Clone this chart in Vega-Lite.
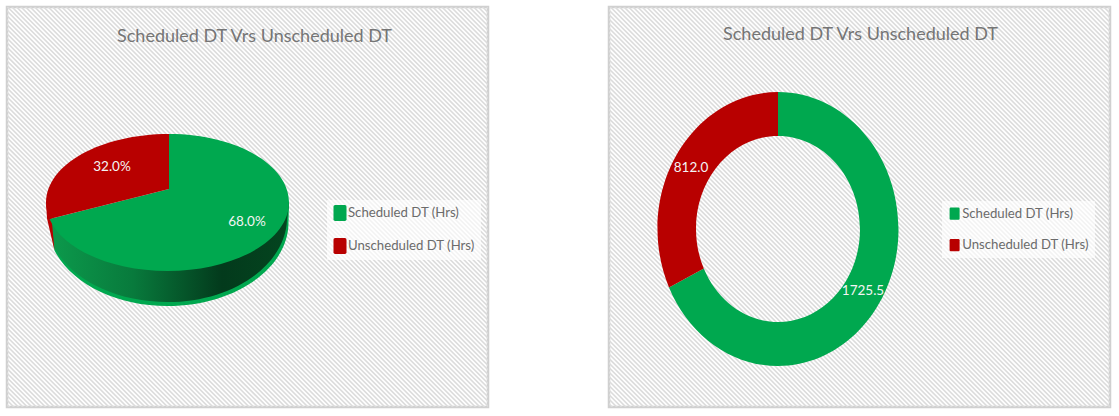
{"$schema":"https://vega.github.io/schema/vega-lite/v6.json","padding":{"left":5,"top":5,"right":10,"bottom":8},"background":"white","spacing":117,"resolve":{"scale":{"x":"independent","y":"independent","shape":"independent","color":"independent"},"legend":{"color":"independent"}},"config":{"view":{"stroke":"#d0d0d0","strokeWidth":2.5,"fill":"white"},"title":{"font":"Lato","fontSize":18,"fontWeight":"normal","color":"#757575","anchor":"middle","frame":"group","offset":-39,"baseline":"alphabetic"},"text":{"font":"Lato","fontSize":13.5,"color":"#f4f4f4"},"legend":{"labelFont":"Lato","labelFontSize":13.2,"labelColor":"#6b6b6b","title":null}},"hconcat":[{"width":481,"height":400,"title":{"text":"Scheduled DT Vrs Unscheduled DT","dx":7},"layer":[{"data":{"values":[{"layer":"backdrop"}]},"mark":{"type":"rule","stroke":"#dcdcdc","strokeWidth":800,"strokeDash":[1.6,1.6],"clip":true},"encoding":{"x":{"datum":-260,"scale":{"domain":[0,481],"nice":false},"axis":null},"y":{"datum":700,"scale":{"domain":[0,400],"nice":false,"reverse":true},"axis":null},"x2":{"datum":740},"y2":{"datum":-300}}},{"data":{"values":[{"layer":"rim"}]},"mark":{"type":"point","filled":true,"opacity":1,"size":4,"strokeWidth":0,"fill":"#00a84f","shape":"M-118,16.4 L-113,48 C-95.9,81.3 -51.2,103.5 0,103.5 C66.8,103.5 121,66.1 121,20 L121.5,0 Z"},"encoding":{"x":{"datum":160.5},"y":{"datum":195.5}}},{"data":{"values":[{"layer":"rim"}]},"mark":{"type":"point","filled":true,"opacity":1,"size":4,"strokeWidth":0,"fill":{"gradient":"linear","x1":0,"y1":0,"x2":1,"y2":0,"stops":[{"offset":0,"color":"#0c9a4c"},{"offset":0.35,"color":"#087a3c"},{"offset":0.72,"color":"#033a1c"},{"offset":1,"color":"#04451f"}]},"shape":"M-118,16.4 L-113,45 C-95.9,77.5 -51.2,99.5 0,99.5 C65,99.5 118,63 119.5,17 L121.5,0 Z"},"encoding":{"x":{"datum":160.5},"y":{"datum":195.5}}},{"data":{"values":[{"layer":"rim"}]},"mark":{"type":"point","filled":true,"opacity":1,"size":4,"strokeWidth":0,"fill":"#b80000","shape":"M-121.5,0 L-120.5,16 L-113,48 L-116,15 Z"},"encoding":{"x":{"datum":160.5},"y":{"datum":195.5}}},{"data":{"values":[{"series":"Scheduled DT (Hrs)","part":"scheduled","hours":1725.5,"share":0.68},{"series":"Unscheduled DT (Hrs)","part":"unscheduled","hours":812,"share":0.32}]},"mark":{"type":"point","filled":true,"opacity":1,"size":4,"strokeWidth":0},"encoding":{"x":{"datum":160.5},"y":{"datum":195.5},"shape":{"field":"part","type":"nominal","legend":null,"scale":{"domain":["scheduled","unscheduled"],"range":["M1.5,-13.5 L1.5,-68.5 C68.6,-68.5 121.5,-37.8 121.5,0 C121.5,37.8 67.1,68.5 0,68.5 C-55.9,68.5 -104.6,47 -118,16.4 Z","M1.5,-13.5 L-118,16.4 C-120.2,11 -121.5,5.5 -121.5,0 C-121.5,-37.8 -67.1,-68.5 1.5,-68.5 Z"]}},"color":{"field":"series","type":"nominal","scale":{"domain":["Scheduled DT (Hrs)","Unscheduled DT (Hrs)"],"range":["#00a84f","#b80000"]},"legend":{"orient":"none","legendX":320,"legendY":193,"padding":6,"fillColor":"rgba(255,255,255,0.65)","symbolType":"M-0.7,-1.14 H0.7 Q0.93,-1.14 0.93,-0.9 V0.9 Q0.93,1.14 0.7,1.14 H-0.7 Q-0.93,1.14 -0.93,0.9 V-0.9 Q-0.93,-1.14 -0.7,-1.14 Z","symbolSize":196,"symbolStrokeWidth":0,"symbolOpacity":1,"labelOffset":1,"rowPadding":17}}}},{"data":{"values":[{"series":"Scheduled DT (Hrs)","share":0.68}]},"mark":{"type":"text"},"encoding":{"x":{"datum":240},"y":{"datum":215},"text":{"field":"share","type":"quantitative","format":".1%"}}},{"data":{"values":[{"series":"Unscheduled DT (Hrs)","share":0.32}]},"mark":{"type":"text"},"encoding":{"x":{"datum":105},"y":{"datum":160},"text":{"field":"share","type":"quantitative","format":".1%"}}}]},{"width":501,"height":400,"title":{"text":"Scheduled DT Vrs Unscheduled DT","dx":1,"offset":-37},"layer":[{"data":{"values":[{"layer":"backdrop"}]},"mark":{"type":"rule","stroke":"#dcdcdc","strokeWidth":800,"strokeDash":[1.6,1.6],"clip":true},"encoding":{"x":{"datum":-250,"scale":{"domain":[0,501],"nice":false},"axis":null},"y":{"datum":700,"scale":{"domain":[0,400],"nice":false,"reverse":true},"axis":null},"x2":{"datum":750},"y2":{"datum":-300}}},{"data":{"values":[{"series":"Scheduled DT (Hrs)","part":"scheduled","hours":1725.5},{"series":"Unscheduled DT (Hrs)","part":"unscheduled","hours":812}]},"mark":{"type":"point","filled":true,"opacity":1,"size":4,"strokeWidth":0},"encoding":{"x":{"datum":169},"y":{"datum":222},"shape":{"field":"part","type":"nominal","legend":null,"scale":{"domain":["scheduled","unscheduled"],"range":["M0,-137 C66.55,-137 120.5,-75.66 120.5,0 C120.5,75.66 66.55,137 0,137 C-46.7,137 -89.1,106.4 -109,58.4 L-74.2,39.6 C-60.7,72.2 -31.8,93 0,93 C45.3,93 82,51.4 82,0 C82,-51.4 45.3,-93 0,-93 Z","M-109,58.4 C-116.5,40.2 -120.5,20.2 -120.5,0 C-120.5,-75.66 -66.55,-137 0,-137 L0,-93 C-45.3,-93 -82,-51.4 -82,0 C-82,13.7 -79.3,27.2 -74.2,39.6 Z"]}},"color":{"field":"series","type":"nominal","scale":{"domain":["Scheduled DT (Hrs)","Unscheduled DT (Hrs)"],"range":["#00a84f","#b80000"]},"legend":{"orient":"none","legendX":333,"legendY":194,"padding":6,"fillColor":"rgba(255,255,255,0.65)","symbolType":"M-0.7,-1.14 H0.7 Q0.93,-1.14 0.93,-0.9 V0.9 Q0.93,1.14 0.7,1.14 H-0.7 Q-0.93,1.14 -0.93,0.9 V-0.9 Q-0.93,-1.14 -0.7,-1.14 Z","symbolSize":116,"symbolStrokeWidth":0,"symbolOpacity":1,"labelOffset":1,"rowPadding":17.5}}}},{"data":{"values":[{"series":"Scheduled DT (Hrs)","hours":1725.5}]},"mark":{"type":"text"},"encoding":{"x":{"datum":254},"y":{"datum":284},"text":{"field":"hours","type":"quantitative","format":".1f"}}},{"data":{"values":[{"series":"Unscheduled DT (Hrs)","hours":812}]},"mark":{"type":"text"},"encoding":{"x":{"datum":82},"y":{"datum":161},"text":{"field":"hours","type":"quantitative","format":".1f"}}}]}]}
